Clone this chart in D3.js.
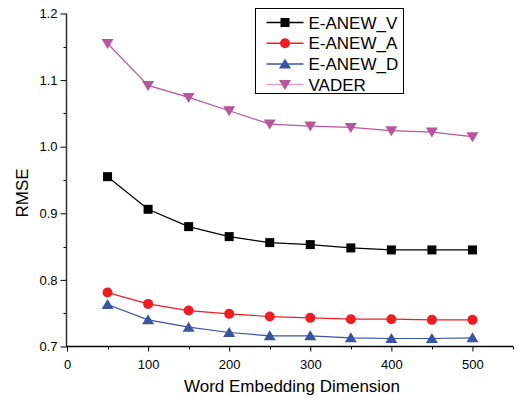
<!DOCTYPE html>
<html>
<head>
<meta charset="utf-8">
<script src="https://cdn.jsdelivr.net/npm/d3@7"></script>
<style>
  body { margin: 0; background: #fff; }
  svg text { font-family: "Liberation Sans", Arial, sans-serif; fill: #000; }
</style>
</head>
<body>
<div id="chart"></div>
<script>
const dims = [50, 100, 150, 200, 250, 300, 350, 400, 450, 500];
const anewV = [0.955, 0.906, 0.880, 0.865, 0.856, 0.853, 0.848, 0.845, 0.845, 0.845];
const anewA = [0.781, 0.764, 0.754, 0.749, 0.745, 0.743, 0.741, 0.741, 0.740, 0.740];
const anewD = [0.763, 0.740, 0.729, 0.721, 0.716, 0.716, 0.713, 0.712, 0.712, 0.713];
const vader = [1.155, 1.092, 1.074, 1.054, 1.034, 1.031, 1.029, 1.024, 1.022, 1.015];
const xTicks = [0, 100, 200, 300, 400, 500];
const yTicks = [0.7, 0.8, 0.9, 1.0, 1.1, 1.2];

const series = [
  { name: 'E-ANEW_V', values: anewV, color: '#000000', legendColor: '#000000', marker: 'square' },
  { name: 'E-ANEW_A', values: anewA, color: '#ee1d24', legendColor: '#ee1d24', marker: 'circle' },
  { name: 'E-ANEW_D', values: anewD, color: '#3a54a4', legendColor: '#3a54a4', marker: 'triangle' },
  { name: 'VADER', values: vader, color: '#b9559e', legendColor: '#d9a3ce', marker: 'down' }
];

const w = 516, h = 401;
const padL = 66.5, padR = 513, padT = 13.5, padB = 346.5;

const svg = d3.select('#chart').append('svg')
  .attr('width', w)
  .attr('height', h);

const xScale = d3.scaleLinear().domain([0, 550]).range([padL + 0.5, padR]);
const yScale = d3.scaleLinear().domain([0.7, 1.2]).range([padB, padT]);

// axes
const xAxis = d3.axisBottom(xScale).tickValues(xTicks).tickSize(5).tickFormat(d3.format('d'));
const yAxis = d3.axisLeft(yScale).tickValues(yTicks).tickSize(6).tickFormat(d3.format('.1f'));

const gx = svg.append('g')
  .attr('transform', `translate(0,${padB})`)
  .call(xAxis);
const gy = svg.append('g')
  .attr('transform', `translate(${padL},0)`)
  .call(yAxis);

[gx, gy].forEach(g => {
  g.select('.domain').remove();
  g.selectAll('line').attr('stroke', '#000').attr('stroke-width', 1);
  g.selectAll('text').style('font-size', '13px').style('font-family', '"Liberation Sans", Arial, sans-serif').attr('fill', '#222');
});
gx.selectAll('text').attr('dy', '1.1em');
gy.selectAll('text').attr('x', -9);

// minor ticks
svg.selectAll('.xminor')
  .data([50, 150, 250, 350, 450, 550])
  .enter().append('line')
  .attr('x1', d => Math.round(xScale(d)) + 0.5).attr('x2', d => Math.round(xScale(d)) + 0.5)
  .attr('y1', padB).attr('y2', padB + 3)
  .attr('stroke', '#000');
svg.selectAll('.yminor')
  .data([0.75, 0.85, 0.95, 1.05, 1.15])
  .enter().append('line')
  .attr('x1', padL - 3).attr('x2', padL)
  .attr('y1', d => Math.round(yScale(d)) + 0.5).attr('y2', d => Math.round(yScale(d)) + 0.5)
  .attr('stroke', '#000');

// axis lines
svg.append('line').attr('x1', padL).attr('x2', padL).attr('y1', padT).attr('y2', padB)
  .attr('stroke', '#333').attr('stroke-width', 1.5);
svg.append('line').attr('x1', padL - 0.5).attr('x2', padR).attr('y1', padB).attr('y2', padB)
  .attr('stroke', '#000').attr('stroke-width', 1.5);

// axis titles
svg.append('text')
  .attr('x', 292).attr('y', 392)
  .attr('text-anchor', 'middle')
  .style('font-size', '17px')
  .attr('fill', '#222')
  .text('Word Embedding Dimension');
svg.append('text')
  .attr('transform', 'translate(28,193) rotate(-90)')
  .attr('text-anchor', 'middle')
  .style('font-size', '17px')
  .attr('fill', '#222')
  .text('RMSE');

const marker = (g, type, color) => {
  if (type === 'square') {
    g.append('rect').attr('x', -4.5).attr('y', -4.5).attr('width', 9).attr('height', 9).attr('fill', color);
  } else if (type === 'circle') {
    g.append('circle').attr('r', 5).attr('fill', color);
  } else if (type === 'triangle') {
    g.append('path').attr('d', 'M0,-5.5L6,4.5L-6,4.5Z').attr('fill', color);
  } else {
    g.append('path').attr('d', 'M0,5.5L6,-4.5L-6,-4.5Z').attr('fill', color);
  }
};

const line = d3.line()
  .x(d => xScale(d[0]))
  .y(d => yScale(d[1]));

series.forEach(s => {
  const pts = dims.map((d, i) => [d, s.values[i]]);
  svg.append('path')
    .datum(pts)
    .attr('d', line)
    .attr('fill', 'none')
    .attr('stroke', s.color)
    .attr('stroke-width', 1.2);
  svg.selectAll(null)
    .data(pts)
    .enter().append('g')
    .attr('transform', d => `translate(${xScale(d[0])},${yScale(d[1])})`)
    .each(function () { marker(d3.select(this), s.marker, s.color); });
});

// legend
const legend = svg.append('g').attr('transform', 'translate(255.5,8.5)');
legend.append('rect')
  .attr('width', 148).attr('height', 85)
  .attr('fill', '#fff').attr('stroke', '#000').attr('stroke-width', 1);
series.forEach((s, i) => {
  const y = 14 + i * 20.7;
  legend.append('line')
    .attr('x1', 11).attr('x2', 48).attr('y1', y).attr('y2', y)
    .attr('stroke', s.legendColor).attr('stroke-width', 1.5);
  const m = legend.append('g').attr('transform', `translate(29.5,${y})`);
  marker(m, s.marker, s.color);
  legend.append('text')
    .attr('x', 53).attr('y', y + 6)
    .style('font-size', '17px')
    .text(s.name);
});
</script>
</body>
</html>
